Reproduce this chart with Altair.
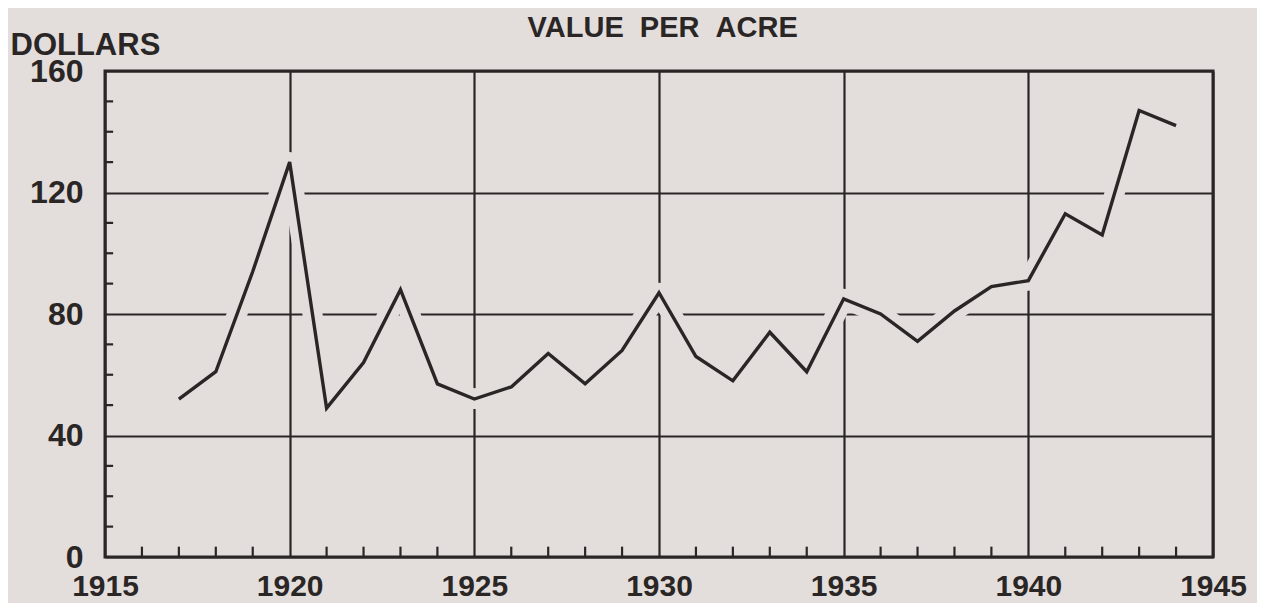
import altair as alt
import pandas as pd

years = [1917, 1918, 1919, 1920, 1921, 1922, 1923, 1924, 1925, 1926, 1927, 1928, 1929, 1930,
         1931, 1932, 1933, 1934, 1935, 1936, 1937, 1938, 1939, 1940, 1941, 1942, 1943, 1944]
values = [52, 61, 94, 130, 49, 64, 88, 57, 52, 56, 67, 57, 68, 87,
          66, 58, 74, 61, 85, 80, 71, 81, 89, 91, 113, 106, 147, 142]

x_major = [1915, 1920, 1925, 1930, 1935, 1940, 1945]
y_major = [0, 40, 80, 120, 160]
x_minor = [y for y in range(1916, 1945) if y % 5 != 0]
y_minor = [v for v in range(10, 160, 10) if v % 40 != 0]

title_text = ["VALUE\u00a0\u00a0PER\u00a0\u00a0ACRE"]

BG = "#e3dedc"
INK = "#2a2626"
FONT = "Liberation Sans"

df = pd.DataFrame({"year": years, "value": values})
xm = pd.DataFrame({"year": x_minor})
ym = pd.DataFrame({"value": y_minor})
tdf = pd.DataFrame({"label": title_text})

xscale = alt.Scale(domain=[1915, 1945], nice=False, zero=False)
yscale = alt.Scale(domain=[0, 160], nice=False)

xaxis = alt.Axis(values=x_major, format="d", grid=True, gridColor=INK, gridWidth=2.2, gridOpacity=1,
                 domain=False, ticks=False, labelFont=FONT, labelFontSize=30, labelFontWeight="bold",
                 labelColor=INK, labelPadding=14, title=None, labelFlush=False)
yaxis = alt.Axis(values=y_major, grid=True, gridColor=INK, gridWidth=2.2, gridOpacity=1,
                 domain=False, ticks=False, labelFont=FONT, labelFontSize=32, labelFontWeight="bold",
                 labelColor=INK, labelPadding=22, title="DOLLARS", titleAngle=0, titleX=-95, titleY=-17,
                 titleAlign="left", titleBaseline="alphabetic", titleFont=FONT, titleFontSize=31,
                 titleFontWeight="bold", titleColor=INK, labelFlush=False)

base = alt.Chart(df)

halo = base.mark_line(color=BG, strokeWidth=20, strokeJoin="round", strokeCap="round").encode(
    x=alt.X("year:Q", scale=xscale, axis=xaxis),
    y=alt.Y("value:Q", scale=yscale, axis=yaxis),
)
line = base.mark_line(color=INK, strokeWidth=3.4, strokeJoin="miter").encode(
    x=alt.X("year:Q", scale=xscale),
    y=alt.Y("value:Q", scale=yscale),
)

xticks = alt.Chart(xm).mark_rule(color=INK, strokeWidth=2.2).encode(
    x=alt.X("year:Q", scale=xscale),
    y=alt.datum(0),
    y2=alt.datum(3.4),
)
yticks = alt.Chart(ym).mark_rule(color=INK, strokeWidth=2.2).encode(
    y=alt.Y("value:Q", scale=yscale),
    x=alt.datum(1915),
    x2=alt.datum(1915.22),
)

title = alt.Chart(tdf).mark_text(font=FONT, fontSize=29, fontWeight="bold", color=INK,
                                 align="center", baseline="alphabetic").encode(
    text="label:N",
    x=alt.datum(1930.1),
    y=alt.datum(171.2),
)

chart = alt.layer(halo, xticks, yticks, line, title).properties(
    width=1108,
    height=486,
    background=BG,
    padding={"left": 97, "top": 63, "right": 44, "bottom": 46},
    autosize=alt.AutoSizeParams(type="none"),
).configure_view(stroke=INK, strokeWidth=3)

chart.save("out.html", embed_options={"renderer": "svg", "actions": False})
